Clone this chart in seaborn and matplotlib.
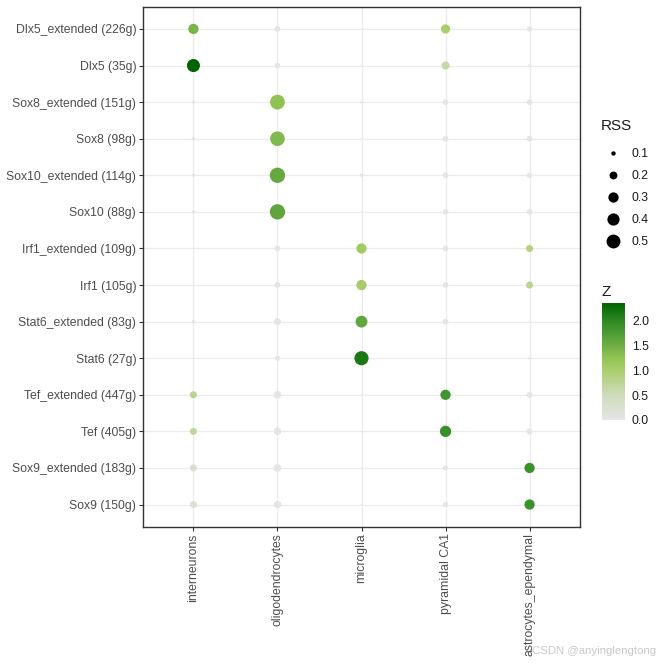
import numpy as np
import pandas as pd
import matplotlib
matplotlib.use("Agg")
import matplotlib.pyplot as plt
import seaborn as sns
from matplotlib.colors import LinearSegmentedColormap, Normalize
from matplotlib.cm import ScalarMappable
from matplotlib.lines import Line2D

# ---------------- data ----------------
regulons = [
    "Dlx5_extended (226g)", "Dlx5 (35g)", "Sox8_extended (151g)", "Sox8 (98g)",
    "Sox10_extended (114g)", "Sox10 (88g)", "Irf1_extended (109g)", "Irf1 (105g)",
    "Stat6_extended (83g)", "Stat6 (27g)", "Tef_extended (447g)", "Tef (405g)",
    "Sox9_extended (183g)", "Sox9 (150g)",
]
cell_types = ["interneurons", "oligodendrocytes", "microglia", "pyramidal CA1",
              "astrocytes_ependymal"]

# RSS per regulon (rows) x cell type (columns)
rss = [
    [0.30, 0.13, 0.06, 0.25, 0.12],
    [0.45, 0.13, 0.06, 0.21, 0.07],
    [0.08, 0.56, 0.07, 0.13, 0.13],
    [0.08, 0.55, 0.06, 0.13, 0.13],
    [0.08, 0.60, 0.08, 0.13, 0.13],
    [0.08, 0.61, 0.06, 0.13, 0.13],
    [0.06, 0.13, 0.30, 0.13, 0.17],
    [0.06, 0.13, 0.30, 0.13, 0.17],
    [0.08, 0.17, 0.38, 0.13, 0.06],
    [0.06, 0.12, 0.52, 0.06, 0.07],
    [0.17, 0.19, 0.06, 0.30, 0.14],
    [0.17, 0.19, 0.06, 0.35, 0.14],
    [0.17, 0.19, 0.06, 0.12, 0.30],
    [0.17, 0.19, 0.06, 0.12, 0.30],
]
# Z score per regulon x cell type
zval = [
    [1.42, 0.00, 0.00, 1.00, 0.00],
    [2.36, 0.00, 0.00, 0.60, 0.00],
    [0.00, 1.28, 0.00, 0.00, 0.00],
    [0.00, 1.38, 0.00, 0.00, 0.00],
    [0.00, 1.56, 0.00, 0.00, 0.00],
    [0.00, 1.63, 0.00, 0.00, 0.00],
    [0.00, 0.00, 1.08, 0.00, 0.85],
    [0.00, 0.00, 1.05, 0.00, 0.78],
    [0.00, 0.00, 1.60, 0.00, 0.00],
    [0.00, 0.00, 2.15, 0.00, 0.00],
    [0.78, 0.00, 0.00, 1.85, 0.00],
    [0.72, 0.00, 0.00, 1.92, 0.00],
    [0.30, 0.00, 0.00, 0.00, 1.90],
    [0.25, 0.00, 0.00, 0.00, 1.90],
]
rss_breaks = [0.1, 0.2, 0.3, 0.4, 0.5]
z_breaks = [0.0, 0.5, 1.0, 1.5, 2.0]

# ---------------- style ----------------
sns.set_theme(style="white")
plt.rcParams['font.family'] = ['Liberation Sans', 'DejaVu Sans']

W = 664
fig = plt.figure(figsize=(6.64, 6.64), dpi=100)
ax = fig.add_axes([143 / W, 1 - 526.5 / W, (580 - 143) / W, (526.5 - 7) / W])

df = pd.DataFrame({
    "regulon": np.repeat(regulons, len(cell_types)),
    "cell": cell_types * len(regulons),
    "RSS": np.ravel(rss),
    "Z": np.ravel(zval),
})

zmax = 2.36
stops = [(0.0, "#E5E5E5"), (0.5, "#CFDCBC"), (1.0, "#A9CE6C"), (1.25, "#92C454"),
         (1.5, "#6FAE45"), (2.0, "#2F8A24"), (zmax, "#006400")]
cmap = LinearSegmentedColormap.from_list("rssz", [(p / zmax, c) for p, c in stops])
znorm = Normalize(0, zmax)
size_lo, size_hi = 1, 122
size_norm = (0.06, 0.60)

sns.scatterplot(data=df, x="cell", y="regulon", hue="Z", size="RSS",
                palette=cmap, hue_norm=znorm, sizes=(size_lo, size_hi),
                size_norm=size_norm, linewidth=0, legend=False, ax=ax, zorder=3)

ax.set_xlim(-0.6, len(cell_types) - 0.4)
ax.set_ylim(len(regulons) - 0.4, -0.6)
ax.set_xlabel("")
ax.set_ylabel("")
ax.set_axisbelow(True)
ax.grid(True, color="#EBEBEB", linewidth=0.9)
for s in ax.spines.values():
    s.set_color("#333333")
    s.set_linewidth(1.0)
ax.tick_params(axis="both", length=2.7, width=0.8, color="#333333",
               labelcolor="#4D4D4D", labelsize=8.8, pad=2.2,
               bottom=True, left=True)
plt.setp(ax.get_xticklabels(), rotation=90, ha="center", va="top")

# size legend
def area(v):
    return size_lo + (v - size_norm[0]) / (size_norm[1] - size_norm[0]) * (size_hi - size_lo)

fig.text(601 / W, 1 - 126 / W, "RSS", fontsize=11, va="center", ha="left",
         color="#1A1A1A")
handles = [Line2D([], [], marker="o", linestyle="", color="black",
                  markeredgewidth=0, markersize=np.sqrt(area(v))) for v in rss_breaks]
leg = fig.legend(handles, [str(v) for v in rss_breaks],
                 loc="upper left", bbox_to_anchor=(596 / W, 1 - 143 / W),
                 frameon=False, fontsize=8.8,
                 labelspacing=0.82, handletextpad=0.5, handlelength=2.0,
                 borderaxespad=0)
for t in leg.get_texts():
    t.set_color("#1A1A1A")

# colour bar
fig.text(601 / W, 1 - 292 / W, "Z", fontsize=11, va="center", ha="left",
         color="#1A1A1A")
cax = fig.add_axes([602 / W, 1 - 420 / W, 23 / W, 117 / W])
cb = fig.colorbar(ScalarMappable(norm=znorm, cmap=cmap), cax=cax)
cb.outline.set_visible(False)
cb.set_ticks(z_breaks)
cb.set_ticklabels([f"{v:.1f}" for v in z_breaks])
cax.yaxis.set_ticks_position("both")
cax.tick_params(axis="y", direction="in", length=4.5, width=0.8, color="white",
                labelleft=False, labelright=True, labelsize=8.8,
                labelcolor="#1A1A1A", pad=5)

fig.text(532 / W, 1 - 651 / W, "CSDN @anyinglengtong", fontsize=8.2,
         color="#C8C8C8", va="center", ha="left")

fig.savefig("out.png", dpi=100)
